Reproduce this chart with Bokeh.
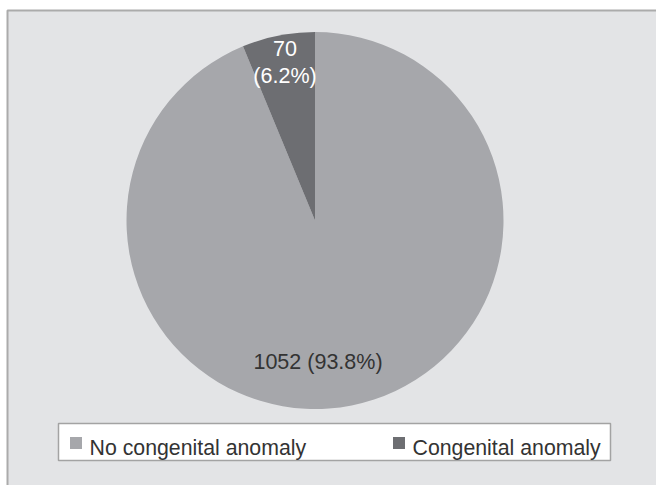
import math
from bokeh.plotting import figure
from bokeh.models import Range1d, ColumnDataSource
from bokeh.core.properties import value
from bokeh.embed import file_html
from bokeh.resources import INLINE

# ---- data ----
categories = ["No congenital anomaly", "Congenital anomaly"]
counts = [1052, 70]
colors = ["#a6a7ab", "#6d6e72"]
label_colors = ["#333333", "#ffffff"]

W, H = 656, 485
FONT = "Liberation Sans"

total = sum(counts)
pcts = [c / total * 100 for c in counts]

# slices drawn anticlockwise from 12 o'clock, small slice first
order = [1, 0]
starts, ends = [0.0] * 2, [0.0] * 2
a = math.pi / 2
for i in order:
    starts[i] = a
    a += 2 * math.pi * counts[i] / total
    ends[i] = a

cx, cy, R = 314.5, H - 220, 188.5

p = figure(width=W, height=H, x_range=Range1d(0, W), y_range=Range1d(0, H),
           output_backend="svg", toolbar_location=None, min_border=0)
p.axis.visible = False
p.grid.visible = False
p.outline_line_color = None
p.background_fill_color = "white"
p.border_fill_color = "white"

# outer chart area
p.quad(left=7, right=W + 20, top=H - 10, bottom=-20,
       fill_color="#e3e4e6", line_color="#ababab", line_width=2)

src = ColumnDataSource(dict(cat=categories, start=starts, end=ends, color=colors))
p.wedge(x=cx, y=cy, radius=R, start_angle="start", end_angle="end",
        fill_color="color", line_color=None, source=src)

# data labels
label_dx = [3, -30]
label_dy = [-141, 158]
texts = [f"{counts[0]} ({pcts[0]:.1f}%)", f"{counts[1]}\n({pcts[1]:.1f}%)"]
p.text(x=[cx + d for d in label_dx], y=[cy + d for d in label_dy], text=texts,
       text_color=label_colors, text_align="center", text_baseline="middle",
       text_font=value(FONT), text_font_size="21.5px", text_line_height=1.15)

# legend
p.quad(left=58, right=610, top=H - 423, bottom=H - 460,
       fill_color="white", line_color="#a3a3a3", line_width=1.5)
leg_x = [69, 392]
p.rect(x=[x + 6.5 for x in leg_x], y=H - 442.5, width=12, height=12,
       fill_color=colors, line_color=None)
p.text(x=[x + 20 for x in leg_x], y=H - 447.5, text=categories,
       text_color="#333333", text_align="left", text_baseline="alphabetic",
       text_font=value(FONT), text_font_size="21.3px")

open("out.html", "w").write(file_html(p, INLINE))
